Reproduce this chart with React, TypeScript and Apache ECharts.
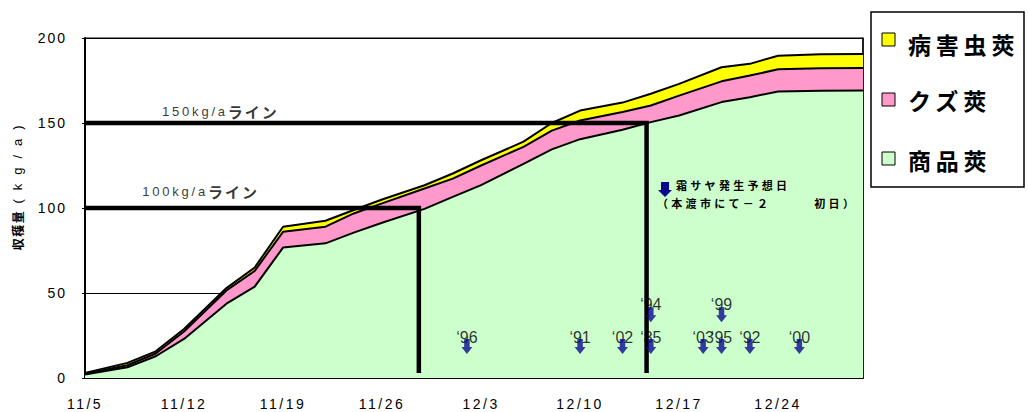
import React, { useEffect, useRef } from "react";
import * as echarts from "echarts";

// ---- data ----
const sampleDates = ["11/5", "11/8", "11/10", "11/12", "11/15", "11/17", "11/19", "11/22", "11/24", "11/26", "11/29", "12/1", "12/3", "12/6", "12/8", "12/10", "12/13", "12/15", "12/17", "12/20", "12/22", "12/24", "12/27", "12/30"];
const shohinSaya = [2, 6.3, 12.8, 23, 43.7, 53.8, 76.7, 79.2, 85.5, 91.3, 99.5, 106.5, 113.5, 126, 134.5, 140.5, 146, 150.5, 154.4, 162.3, 165.2, 168.5, 169, 169.1];
const kuzuSaya = [0.5, 1.2, 1.6, 4.4, 7.8, 9.2, 9.3, 9.8, 11.3, 11.4, 12, 10.8, 11.5, 10, 11, 11, 10.5, 9.8, 11.7, 12.2, 12.7, 13.1, 13.2, 13.3];
const byogaichuSaya = [0.5, 1.4, 1.3, 1.4, 1.4, 2, 3, 3.5, 2, 2.3, 1.9, 3, 3.1, 3, 4.5, 5.8, 5.5, 6.9, 6.9, 8.3, 6.9, 8, 8.2, 8.2];

const weekLabels = ["11/5", "11/12", "11/19", "11/26", "12/3", "12/10", "12/17", "12/24"];
const yTicks = [0, 50, 100, 150, 200];

const seriesNames = ["病害虫莢", "クズ莢", "商品莢"];
const seriesColors = ["#FFFF00", "#FF99CC", "#CCFFCC"];

// target lines (kg/a) and day (from 11/5) where 商品莢 reaches them
const targetLevels = [100, 150];
const targetReachDay = [23.6, 39.7];
const targetLabels = ["100kg/a", "150kg/a"];
const targetLabelPos = [[8.7, 109.7], [10.1, 156.7]];

// frost prediction day per year (days from 11/5)
const yearLabels = ["‘96", "‘91", "‘02", "‘85", "‘94", "‘03", "‘95", "‘99", "‘92", "‘00"];
const yearDays = [27, 35, 38, 40, 40, 43.7, 45, 45, 47, 50.5];
const yearRow = [0, 0, 0, 0, 1, 0, 0, 1, 0, 0];
const rowArrowY = [18.5, 37.2];
const rowLabelY = [23.7, 43];

const LATIN = '"Liberation Sans", Arial, sans-serif';
const CJK = '"Noto Sans CJK JP", "Noto Sans CJK SC", sans-serif';

const dayOf = (s: string) => {
  const [m, d] = s.split("/").map(Number);
  return m === 11 ? d - 5 : 25 + d;
};
const days = sampleDates.map(dayOf);

const ARROW = "path://M3,0L9,0L9,8L12,8L6,15L0,8L3,8Z";

function applySpacing(root: HTMLElement) {
  const xs = new Set(weekLabels);
  const ys = new Set(yTicks.map(String));
  root.querySelectorAll("text").forEach((t) => {
    const s = (t.textContent || "").trim();
    let ls: number | null = null;
    if (xs.has(s)) ls = 2.5;
    else if (ys.has(s)) ls = 2;
    else if (s === "(kg/a)") ls = 9;
    else if (s === "収穫量") ls = 1.5;
    else if (targetLabels.includes(s)) ls = 2.8;
    else if (s === "ライン") ls = 2;
    else if (seriesNames.includes(s)) ls = 4.8;
    else if (s.startsWith("霜") || s.startsWith("（")) ls = 3.3;
    if (ls !== null) t.setAttribute("letter-spacing", String(ls));
  });
}

export default function App() {
  const ref = useRef<HTMLDivElement>(null);
  useEffect(() => {
    if (!ref.current) return;
    const el = ref.current;
    const chart = echarts.init(el, undefined, { renderer: "svg" });
    chart.on("finished", () => applySpacing(el));

    // cumulative tops (stack drawn as overlapping opaque areas, top layer first)
    const midTop = shohinSaya.map((v, i) => v + kuzuSaya[i]);
    const totalTop = midTop.map((v, i) => v + byogaichuSaya[i]);
    const layers = [totalTop, midTop, shohinSaya];

    const areaSeries = layers.map((arr, k) => ({
      name: seriesNames[k],
      type: "line",
      data: days.map((d, i) => [d, arr[i]]),
      symbol: "none",
      silent: true,
      lineStyle: { color: "#000", width: 2 },
      itemStyle: { color: seriesColors[k] },
      areaStyle: { color: seriesColors[k], opacity: 1 },
      z: 2,
    }));

    const targetSeries = targetLevels.map((lv, i) => ({
      type: "line",
      data: [[0, lv], [targetReachDay[i], lv], [targetReachDay[i], 3]],
      symbol: "none",
      silent: true,
      lineStyle: { color: "#000", width: 4.5, cap: "butt", join: "miter" },
      z: 5,
    }));

    const option: any = {
      animation: false,
      grid: { left: 85, right: 165, top: 38, bottom: 34, show: true, borderColor: "#000", borderWidth: 1 },
      xAxis: {
        type: "value",
        min: 0,
        max: 55,
        interval: 7,
        axisLine: { lineStyle: { color: "#000", width: 2 } },
        axisTick: { inside: true, length: 6, lineStyle: { color: "#000", width: 1.5 } },
        axisLabel: {
          color: "#000",
          fontSize: 14,
          fontFamily: LATIN,
          margin: 19,
          showMaxLabel: false,
          formatter: (v: number) => (Number.isInteger(v / 7) && weekLabels[v / 7]) || "",
        },
        splitLine: { show: false },
      },
      yAxis: [
        {
          type: "value",
          min: 0,
          max: 200,
          interval: 50,
          axisLine: { show: true, lineStyle: { color: "#000", width: 2 } },
          axisTick: { show: true, length: 3, lineStyle: { color: "#000" } },
          axisLabel: { color: "#000", fontSize: 14, fontFamily: LATIN, margin: 18 },
          splitLine: { show: true, lineStyle: { color: "#000", width: 1 } },
        },
        {
          type: "value",
          position: "right",
          min: 0,
          max: 200,
          interval: 50,
          axisLine: { show: true, lineStyle: { color: "#000", width: 1.5 } },
          axisTick: { show: false },
          axisLabel: { show: false },
          splitLine: { show: false },
        },
      ],
      series: [
        ...areaSeries,
        ...targetSeries,
        {
          type: "scatter",
          silent: true,
          symbolSize: 1,
          itemStyle: { color: "rgba(0,0,0,0)" },
          data: targetLabels.map((t, i) => ({ value: targetLabelPos[i], name: t })),
          label: {
            show: true,
            position: "inside",
            align: "right",
            formatter: (p: any) => p.name,
            fontSize: 13,
            fontFamily: LATIN,
            color: "#000",
          },
          z: 6,
        },
        {
          type: "scatter",
          silent: true,
          symbolSize: 1,
          itemStyle: { color: "rgba(0,0,0,0)" },
          data: targetLabels.map((t, i) => ({ value: targetLabelPos[i], name: "ライン" })),
          label: {
            show: true,
            position: "inside",
            align: "left",
            formatter: (p: any) => p.name,
            fontSize: 15,
            fontWeight: "bold",
            fontFamily: CJK,
            color: "#000",
          },
          z: 6,
        },
        {
          type: "scatter",
          silent: true,
          symbolSize: 1,
          itemStyle: { color: "rgba(0,0,0,0)" },
          data: yearLabels.map((t, i) => ({ value: [yearDays[i], rowLabelY[yearRow[i]]], name: t })),
          label: {
            show: true,
            position: "inside",
            formatter: (p: any) => p.name,
            color: "#000",
            fontSize: 16,
            fontFamily: LATIN,
          },
          z: 6,
        },
        {
          type: "scatter",
          silent: true,
          symbol: ARROW,
          symbolSize: [11, 15],
          itemStyle: { color: "#0a0a8c" },
          data: yearLabels.map((t, i) => ({ value: [yearDays[i], rowArrowY[yearRow[i]]], name: t })),
          z: 7,
        },
      ],
      graphic: [
        {
          type: "text",
          x: 17,
          y: 230,
          rotation: Math.PI / 2,
          style: { text: "収穫量", font: `bold 12px ${CJK}`, fill: "#000", align: "center", verticalAlign: "middle" },
        },
        {
          type: "text",
          x: 17,
          y: 160,
          rotation: Math.PI / 2,
          style: { text: "(kg/a)", font: `13px ${LATIN}`, fill: "#000", align: "center", verticalAlign: "middle" },
        },
        {
          type: "polygon",
          shape: { points: [[661, 182], [669, 182], [669, 190], [672, 190], [665, 197], [658, 190], [661, 190]] },
          style: { fill: "#0a0a8c" },
          z: 100,
        },
        {
          type: "text",
          x: 676,
          y: 185,
          style: { text: "霜サヤ発生予想日", font: `bold 11px ${CJK}`, fill: "#000", verticalAlign: "middle" },
          z: 100,
        },
        {
          type: "text",
          x: 657,
          y: 203,
          style: { text: "（本渡市にて－２　　　初日）", font: `bold 11px ${CJK}`, fill: "#000", verticalAlign: "middle" },
          z: 100,
        },
        {
          type: "group",
          z: 100,
          children: [
            {
              type: "rect",
              shape: { x: 871, y: 12, width: 153, height: 175 },
              style: { fill: "#fff", stroke: "#000", lineWidth: 1.5 },
            },
            ...seriesNames.map((n, i) => ({
              type: "rect",
              shape: { x: 882, y: [33, 93, 152][i], width: 13, height: 13 },
              style: { fill: seriesColors[i], stroke: "#000", lineWidth: 1 },
            })),
            ...seriesNames.map((n, i) => ({
              type: "text",
              x: 908,
              y: [44, 100, 160][i],
              style: { text: n, font: `bold 23px ${CJK}`, fill: "#000", verticalAlign: "middle" },
            })),
          ],
        },
      ],
    };
    chart.setOption(option);
    applySpacing(el);
    const raf = requestAnimationFrame(() => applySpacing(el));
    return () => {
      cancelAnimationFrame(raf);
      chart.dispose();
    };
  }, []);
  return <div ref={ref} style={{ position: "absolute", left: 0, top: 0, width: 1028, height: 412 }} />;
}
